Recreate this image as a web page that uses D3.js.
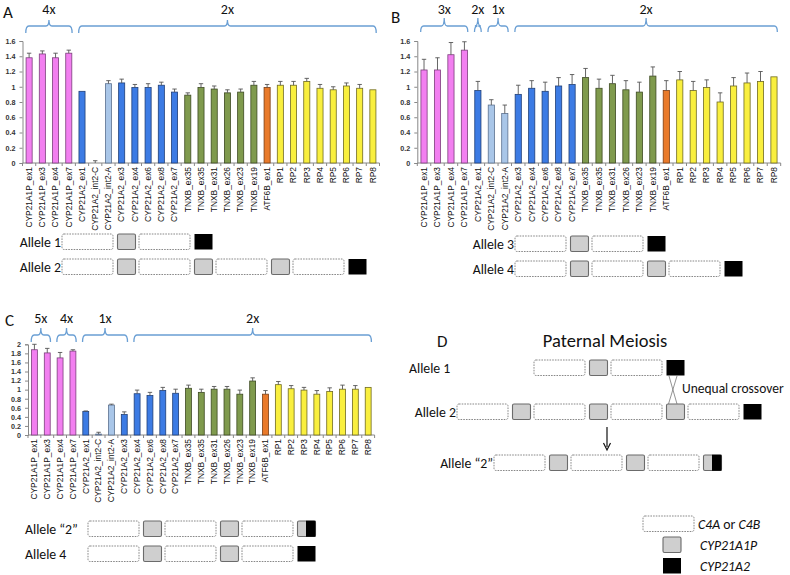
<!DOCTYPE html>
<html><head><meta charset="utf-8">
<script src="https://cdn.jsdelivr.net/npm/d3@7"></script>
<style>body{margin:0;background:#fff}svg{display:block}</style>
</head><body>
<svg id="fig" width="790" height="575"></svg>
<script>
// ---------------- DATA ----------------
const categories = ["CYP21A1P_ex1","CYP21A1P_ex3","CYP21A1P_ex4","CYP21A1P_ex7",
  "CYP21A2_ex1","CYP21A2_int2-C","CYP21A2_int2-A","CYP21A2_ex3","CYP21A2_ex4","CYP21A2_ex6","CYP21A2_ex8","CYP21A2_ex7",
  "TNXB_ex35","TNXB_ex35","TNXB_ex31","TNXB_ex26","TNXB_ex23","TNXB_ex19","ATF6B_ex1",
  "RP1","RP2","RP3","RP4","RP5","RP6","RP7","RP8"];
const groupsA = ["pink","pink","pink","pink","blue","light","light","blue","blue","blue","blue","blue",
  "green","green","green","green","green","green","orange","yellow","yellow","yellow","yellow","yellow","yellow","yellow","yellow"];
const groupsC = ["pink","pink","pink","pink","blue","light","light","blue","blue","blue","blue","blue",
  "green","green","green","green","green","green","orange","yellow","yellow","yellow","yellow","yellow","yellow","yellow","yellow"];

const valuesA = [1.38,1.43,1.38,1.44, 0.94,0.00,1.04,1.05,0.99,0.99,1.02,0.93, 0.89,0.99,0.97,0.92,0.93,1.02, 0.99, 1.02,1.02,1.07,0.98,0.96,1.01,0.98,0.96];
const errorsA = [0.06,0.04,0.06,0.04, 0.00,0.03,0.04,0.05,0.04,0.05,0.04,0.04, 0.03,0.05,0.04,0.04,0.04,0.05, 0.04, 0.05,0.05,0.04,0.05,0.04,0.04,0.05,0.00];

const valuesB = [1.22,1.22,1.42,1.48, 0.95,0.76,0.65,0.90,0.98,0.94,1.01,1.03, 1.12,0.98,1.04,0.96,0.93,1.14, 0.95, 1.09,0.95,0.99,0.80,1.01,1.05,1.07,1.13];
const errorsB = [0.14,0.16,0.16,0.11, 0.12,0.07,0.11,0.12,0.10,0.12,0.11,0.13, 0.12,0.12,0.11,0.12,0.13,0.12, 0.13, 0.11,0.12,0.10,0.12,0.11,0.13,0.13,0.00];

const valuesC = [1.88,1.81,1.70,1.85, 0.52,0.02,0.66,0.45,0.91,0.87,0.98,0.92, 1.03,0.94,1.01,1.01,0.90,1.19, 0.90, 1.11,1.02,0.99,0.90,0.96,1.01,1.01,1.05];
const errorsC = [0.12,0.10,0.12,0.03, 0.01,0.04,0.02,0.06,0.08,0.07,0.07,0.09, 0.07,0.07,0.06,0.06,0.09,0.07, 0.08, 0.07,0.07,0.06,0.08,0.08,0.09,0.08,0.00];

const yTicksAB = [0,0.2,0.4,0.6,0.8,1,1.2,1.4,1.6];
const yTicksC = [0,0.2,0.4,0.6,0.8,1,1.2,1.4,1.6,1.8,2];

// copy-number braces: [label, first index, last index]
const bracesA = [["4x",0,3],["2x",4,26]];
const bracesB = [["3x",0,3],["2x",4,4],["1x",5,6],["2x",7,26]];
const bracesC = [["5x",0,1],["4x",2,3],["1x",4,7],["2x",8,26]];

// allele structures: D = C4A/C4B, P = CYP21A1P, A = CYP21A2, PA = hybrid
const allele1 = ["D","P","D","A"];
const allele2 = ["D","P","D","P","D","P","D","A"];
const allele3 = ["D","P","D","A"];
const allele4 = ["D","P","D","P","D","A"];
const alleleQ2 = ["D","P","D","P","D","PA"];
const legendItems = [["D",[["C4A",true],[" or ",false],["C4B",true]]],["P",[["CYP21A1P",true]]],["A",[["CYP21A2",true]]]];

// ---------------- STYLE ----------------
const fills = {pink:"#f27ff0", blue:"#3c7be4", light:"#a9c6e8", green:"#7f9a4d", orange:"#e97a2a", yellow:"#f9ef3e"};
const strokes = {pink:"#7c3f7c", blue:"#1f3f78", light:"#5b7190", green:"#3d4a22", orange:"#7a3c12", yellow:"#6f6a22"};
const braceColor = "#6a9fd4";
const labelFont = "Carlito, Lato, 'Open Sans', sans-serif";
const axisFont = "'Liberation Sans', Arial, sans-serif";
const labelSize = 13.8;

const svg = d3.select("#fig");
svg.append("rect").attr("width",790).attr("height",575).attr("fill","#fff");

function drawChart(cfg){
  const g = svg.append("g");
  const n = categories.length;
  const x = d3.scaleBand().domain(d3.range(n)).range(cfg.xRange).paddingInner(0).paddingOuter(0);
  const y = d3.scaleLinear().domain([0, cfg.yMax]).range(cfg.yRange);
  const bw = x.bandwidth()*0.46;
  const cx = i => x(i) + x.bandwidth()/2;

  // y axis
  const ya = d3.axisLeft(y).tickValues(cfg.yTicks).tickSize(3).tickPadding(4).tickFormat(d3.format("~g"));
  const yg = g.append("g").attr("transform",`translate(${cfg.xRange[0]},0)`).call(ya);
  yg.select(".domain").attr("stroke","#888");
  yg.selectAll(".tick line").attr("stroke","#888");
  yg.selectAll(".tick text").attr("font-family",axisFont).attr("font-size",7.2).attr("font-weight","bold").attr("fill","#333");

  // x axis domain + boundary ticks
  const y0 = y(0);
  g.append("line").attr("x1",cfg.xRange[0]).attr("x2",cfg.xRange[1]).attr("y1",y0).attr("y2",y0).attr("stroke","#888");
  g.selectAll(".xt").data(d3.range(n+1)).join("line")
    .attr("x1",i=>cfg.xRange[0]+i*x.step()).attr("x2",i=>cfg.xRange[0]+i*x.step())
    .attr("y1",y0).attr("y2",y0+3).attr("stroke","#888");

  // bars
  g.selectAll(".bar").data(cfg.values).join("rect")
    .attr("x",(d,i)=>cx(i)-bw/2).attr("width",bw)
    .attr("y",d=>y(d)).attr("height",d=>Math.max(0,y0-y(d)))
    .attr("fill",(d,i)=>fills[cfg.groups[i]]).attr("stroke",(d,i)=>strokes[cfg.groups[i]]).attr("stroke-width",0.8);

  // error bars (upper)
  const eg = g.selectAll(".err").data(cfg.values.map((v,i)=>({v,e:cfg.errors[i],i})).filter(d=>d.e>0)).join("g");
  eg.append("line").attr("x1",d=>cx(d.i)).attr("x2",d=>cx(d.i)).attr("y1",d=>y(d.v)).attr("y2",d=>y(d.v+d.e)).attr("stroke","#555").attr("stroke-width",0.9);
  eg.append("line").attr("x1",d=>cx(d.i)-2.2).attr("x2",d=>cx(d.i)+2.2).attr("y1",d=>y(d.v+d.e)).attr("y2",d=>y(d.v+d.e)).attr("stroke","#555").attr("stroke-width",0.9);

  // category labels
  g.selectAll(".xl").data(categories).join("text")
    .attr("transform",(d,i)=>`translate(${cx(i)+2.8},${y0+4}) rotate(-90)`)
    .attr("text-anchor","end").attr("font-family",axisFont).attr("font-size",8.4).attr("fill","#111")
    .text(d=>d);

  // braces
  cfg.braces.forEach(([lab,a,b])=>{
    const x1 = x(a)+x.bandwidth()*0.25, x2 = x(b)+x.bandwidth()*0.75, m=(x1+x2)/2;
    const yb = cfg.brace[0], yl = cfg.brace[1], yt = cfg.brace[2], q=3;
    const p = `M${x1},${yb} Q${x1},${yl} ${x1+q},${yl} L${m-q},${yl} Q${m},${yl} ${m},${yt} Q${m},${yl} ${m+q},${yl} L${x2-q},${yl} Q${x2},${yl} ${x2},${yb}`;
    g.append("path").attr("d",p).attr("fill","none").attr("stroke",braceColor).attr("stroke-width",1.3);
    g.append("text").attr("x",m).attr("y",cfg.brace[3]).attr("text-anchor","middle")
      .attr("font-family",labelFont).attr("font-size",14).attr("fill","#111").text(lab);
  });
}

drawChart({values:valuesA, errors:errorsA, groups:groupsA, yMax:1.6, yTicks:yTicksAB, xRange:[22.5,379.5], yRange:[163,41], braces:bracesA, brace:[33,26,20,14]});
drawChart({values:valuesB, errors:errorsB, groups:groupsA, yMax:1.6, yTicks:yTicksAB, xRange:[417.3,780.7], yRange:[163,41], braces:bracesB, brace:[32,26,18,14]});
drawChart({values:valuesC, errors:errorsC, groups:groupsC, yMax:2, yTicks:yTicksC, xRange:[28,374.6], yRange:[435,344.3], braces:bracesC, brace:[342,335,328,323]});

// panel letters
[["A",3,18],["B",391,23],["C",5,326],["D",437,347]].forEach(([t,px,py])=>{
  svg.append("text").attr("x",px).attr("y",py).attr("font-family",labelFont).attr("font-size",17).attr("fill","#111").text(t);
});

// allele diagrams
function drawBox(g,type,x0,y0,h){
  if(type==="D"){
    g.append("rect").attr("x",x0).attr("y",y0).attr("width",51).attr("height",h).attr("rx",2)
      .attr("fill","#fff").attr("stroke","#7a7a7a").attr("stroke-width",0.9).attr("stroke-dasharray","1.6,1.1");
    return 51+4.5;
  }
  if(type==="P"){
    g.append("rect").attr("x",x0).attr("y",y0).attr("width",18).attr("height",h).attr("rx",1.5)
      .attr("fill","#cfcfcf").attr("stroke","#6b6b6b").attr("stroke-width",1.1);
    return 18+3.5;
  }
  if(type==="A"){
    g.append("rect").attr("x",x0).attr("y",y0).attr("width",18).attr("height",h).attr("fill","#000");
    return 18+3.5;
  }
  // hybrid
  g.append("rect").attr("x",x0).attr("y",y0).attr("width",18).attr("height",h).attr("rx",1.5)
    .attr("fill","#cfcfcf").attr("stroke","#6b6b6b").attr("stroke-width",1.1);
  g.append("rect").attr("x",x0+8.5).attr("y",y0-0.3).attr("width",9.5).attr("height",h+0.6).attr("fill","#000");
  return 18+3.5;
}
function drawAllele(seq,label,x0,y0,lx,anchor){
  const g = svg.append("g");
  const h = 15.5;
  let cur = x0;
  seq.forEach(t=>{ cur += drawBox(g,t,cur,y0,h); });
  g.append("text").attr("x",lx).attr("y",y0+h/2).attr("dy","0.36em").attr("text-anchor",anchor)
    .attr("font-family",labelFont).attr("font-size",labelSize).attr("fill","#111").text(label);
}
drawAllele(allele1,"Allele 1",62,234,61,"end");
drawAllele(allele2,"Allele 2",62,259,61,"end");
drawAllele(allele3,"Allele 3",515,236,514,"end");
drawAllele(allele4,"Allele 4",515,261,514,"end");
drawAllele(alleleQ2,"Allele \u201C2\u201D",88,521,25,"start");
drawAllele(allele4,"Allele 4",88,546,25,"start");

// panel D
svg.append("text").attr("x",605).attr("y",347).attr("text-anchor","middle").attr("font-family",labelFont).attr("font-size",18.5).attr("fill","#111").text("Paternal Meiosis");
drawAllele(allele1,"Allele 1",534,360,409,"start");
drawAllele(allele2,"Allele 2",457,404,456,"end");
drawAllele(alleleQ2,"Allele \u201C2\u201D",494,455,493,"end");
// crossover
svg.append("line").attr("x1",669).attr("y1",376).attr("x2",677).attr("y2",404).attr("stroke","#777").attr("stroke-width",0.8);
svg.append("line").attr("x1",677).attr("y1",376).attr("x2",668.5).attr("y2",404).attr("stroke","#777").attr("stroke-width",0.8);
svg.append("text").attr("x",682).attr("y",388).attr("dy","0.36em").attr("font-family",labelFont).attr("font-size",13.5).attr("fill","#111").text("Unequal crossover");
// arrow
svg.append("line").attr("x1",607).attr("y1",427).attr("x2",607).attr("y2",447).attr("stroke","#111").attr("stroke-width",1.2);
svg.append("path").attr("d","M603.5,443 L607,450 L610.5,443").attr("fill","none").attr("stroke","#111").attr("stroke-width",1.2);

// legend
const lg = svg.append("g");
legendItems.forEach(([type,parts],i)=>{
  const yTop = [516,537,558][i];
  const bx = type==="D" ? 643 : 663;
  drawBox(lg,type,bx,yTop,15.5);
  const t = lg.append("text").attr("x",type==="D"?698:700).attr("y",yTop+8).attr("dy","0.36em")
    .attr("font-family",labelFont).attr("font-size",labelSize).attr("fill","#111");
  parts.forEach(([s,it])=>t.append("tspan").attr("font-style",it?"italic":"normal").text(s));
});
</script>
</body></html>
